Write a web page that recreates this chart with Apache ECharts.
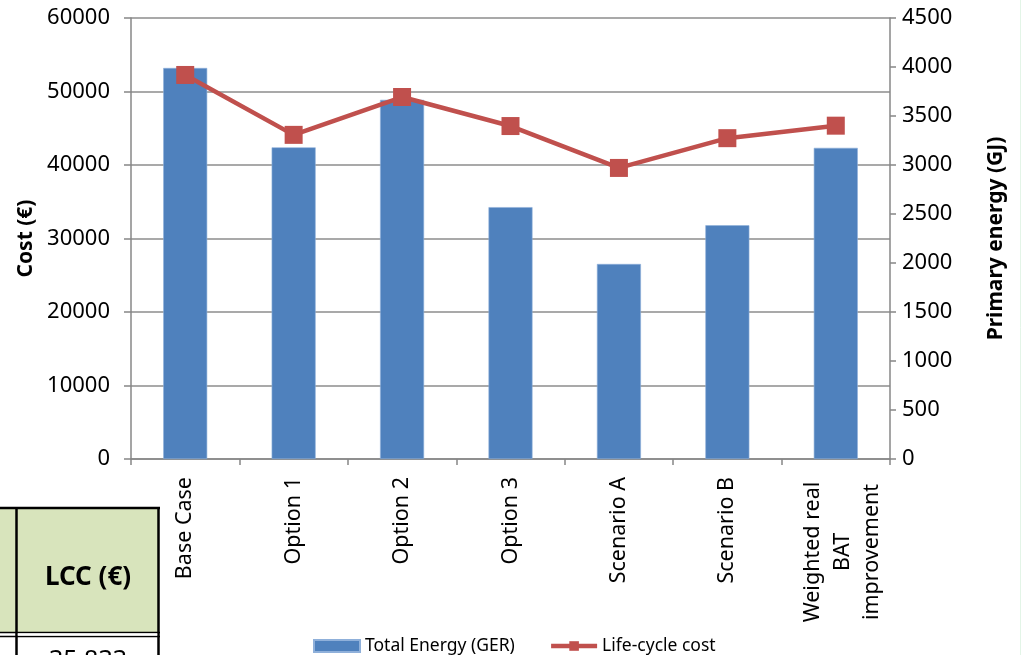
<!DOCTYPE html>
<html>
<head>
<meta charset="utf-8">
<script src="https://cdn.jsdelivr.net/npm/echarts@6/dist/echarts.min.js"></script>
<style>
  html, body { margin: 0; padding: 0; background: #ffffff; }
  #chart { width: 1026px; height: 655px; }
</style>
</head>
<body>
<div id="chart"></div>
<script>
// Options compared
const categories = ['Base Case', 'Option 1', 'Option 2', 'Option 3', 'Scenario A', 'Scenario B', 'Weighted real\nBAT\nimprovement'];
// Total energy (GER), GJ — right axis
const totalEnergy = [3990, 3180, 3665, 2570, 1990, 2385, 3175];
// Life-cycle cost, € — left axis
const lifeCycleCost = [52250, 44100, 49250, 45300, 39600, 43650, 45350];
// Axis ranges
const costTicks = { min: 0, max: 60000, interval: 10000 };
const energyTicks = { min: 0, max: 4500, interval: 500 };

const FONT = 'Noto Sans';
const AXIS_GREY = '#878787';
const plain = function (v) { return String(v); };

const chart = echarts.init(document.getElementById('chart'), null, { renderer: 'canvas' });

chart.setOption({
  animation: false,
  backgroundColor: '#ffffff',
  textStyle: { fontFamily: FONT, color: '#000000' },
  grid: { left: 131, right: 136, top: 18, bottom: 196, containLabel: false },
  legend: {
    left: 308,
    top: 632,
    itemWidth: 46,
    itemHeight: 12,
    itemGap: 34,
    textStyle: { fontFamily: FONT, fontSize: 17.5, color: '#000000' },
    data: [
      { name: 'Total Energy (GER)', icon: 'rect' },
      { name: 'Life-cycle cost', lineStyle: { width: 4.5 } }
    ]
  },
  xAxis: {
    type: 'category',
    data: categories,
    boundaryGap: true,
    axisLine: { lineStyle: { color: AXIS_GREY, width: 1.5 } },
    axisTick: { show: true, length: 6, lineStyle: { color: AXIS_GREY, width: 1.5 } },
    axisLabel: {
      rotate: 90,
      margin: 18,
      fontFamily: FONT,
      fontSize: 21.5,
      color: '#000000',
      interval: 0,
      // multi-line names are centred line by line, with a thin spacer line ahead
      formatter: function (v) {
        if (v.indexOf('\n') < 0) return v;
        return '{s| }\n' + v.split('\n').map(function (s) { return '{c|' + s + '}'; }).join('\n');
      },
      rich: {
        s: { width: 150, fontSize: 2, lineHeight: 14 },
        c: { width: 150, align: 'center', fontSize: 21.5, fontFamily: FONT, lineHeight: 29.5 }
      }
    }
  },
  yAxis: [
    {
      type: 'value',
      position: 'left',
      min: costTicks.min, max: costTicks.max, interval: costTicks.interval,
      name: 'Cost (€)',
      nameLocation: 'middle',
      nameGap: 85,
      nameRotate: 90,
      nameTextStyle: { fontFamily: FONT, fontSize: 21, fontWeight: 'bold', color: '#000000' },
      axisLine: { show: true, lineStyle: { color: AXIS_GREY, width: 1.5 } },
      axisTick: { show: true, length: 7, lineStyle: { color: AXIS_GREY, width: 1.5 } },
      axisLabel: { margin: 21, fontFamily: FONT, fontSize: 22, color: '#000000', formatter: plain },
      splitLine: { show: true, lineStyle: { color: '#8c8c8c', width: 1.5 } }
    },
    {
      type: 'value',
      position: 'right',
      min: energyTicks.min, max: energyTicks.max, interval: energyTicks.interval,
      name: 'Primary energy (GJ)',
      nameLocation: 'middle',
      nameGap: 96,
      nameRotate: 90,
      nameTextStyle: { fontFamily: FONT, fontSize: 21, fontWeight: 'bold', color: '#000000' },
      axisLine: { show: true, lineStyle: { color: AXIS_GREY, width: 1.5 } },
      axisTick: { show: true, length: 6, lineStyle: { color: AXIS_GREY, width: 1.5 } },
      axisLabel: { margin: 12, fontFamily: FONT, fontSize: 22, color: '#000000', formatter: plain },
      splitLine: { show: false }
    }
  ],
  series: [
    {
      name: 'Total Energy (GER)',
      type: 'bar',
      yAxisIndex: 1,
      data: totalEnergy,
      barWidth: 44,
      itemStyle: { color: '#4f81bd', borderColor: '#8fb0da', borderWidth: 0.6 }
    },
    {
      name: 'Life-cycle cost',
      type: 'line',
      yAxisIndex: 0,
      data: lifeCycleCost,
      symbol: 'rect',
      symbolSize: 18,
      lineStyle: { color: '#c0504d', width: 4.5 },
      itemStyle: { color: '#c0504d' },
      z: 5
    }
  ],
  graphic: [
    // fragment of the neighbouring table, bottom left
    { type: 'rect', shape: { x: 0, y: 508, width: 159, height: 124 }, style: { fill: '#d8e4bc' }, silent: true },
    { type: 'line', shape: { x1: 0, y1: 508, x2: 160, y2: 508 }, style: { stroke: '#000', lineWidth: 2.5 } },
    { type: 'line', shape: { x1: 16.5, y1: 508, x2: 16.5, y2: 655 }, style: { stroke: '#000', lineWidth: 2.5 } },
    { type: 'line', shape: { x1: 158.5, y1: 507, x2: 158.5, y2: 655 }, style: { stroke: '#000', lineWidth: 2.5 } },
    { type: 'line', shape: { x1: 0, y1: 632.5, x2: 160, y2: 632.5 }, style: { stroke: '#000', lineWidth: 1.5 } },
    { type: 'line', shape: { x1: 0, y1: 636.5, x2: 160, y2: 636.5 }, style: { stroke: '#000', lineWidth: 1.5 } },
    { type: 'rect', shape: { x: 17.8, y: 633.4, width: 139.4, height: 2.2 }, style: { fill: '#ffffff' } },
    { type: 'text', x: 88, y: 578, style: { text: 'LCC (€)', font: 'bold 26px "Noto Sans"', fill: '#000', align: 'center', verticalAlign: 'middle' } },
    { type: 'text', x: 88, y: 648, style: { text: '35 833', font: '25px "Noto Sans"', fill: '#000', align: 'center', verticalAlign: 'top' } },
    // faint page edge on the right
    { type: 'line', shape: { x1: 1020.5, y1: 0, x2: 1020.5, y2: 655 }, style: { stroke: '#e3f5e7', lineWidth: 1 } }
  ]
});
</script>
</body>
</html>
